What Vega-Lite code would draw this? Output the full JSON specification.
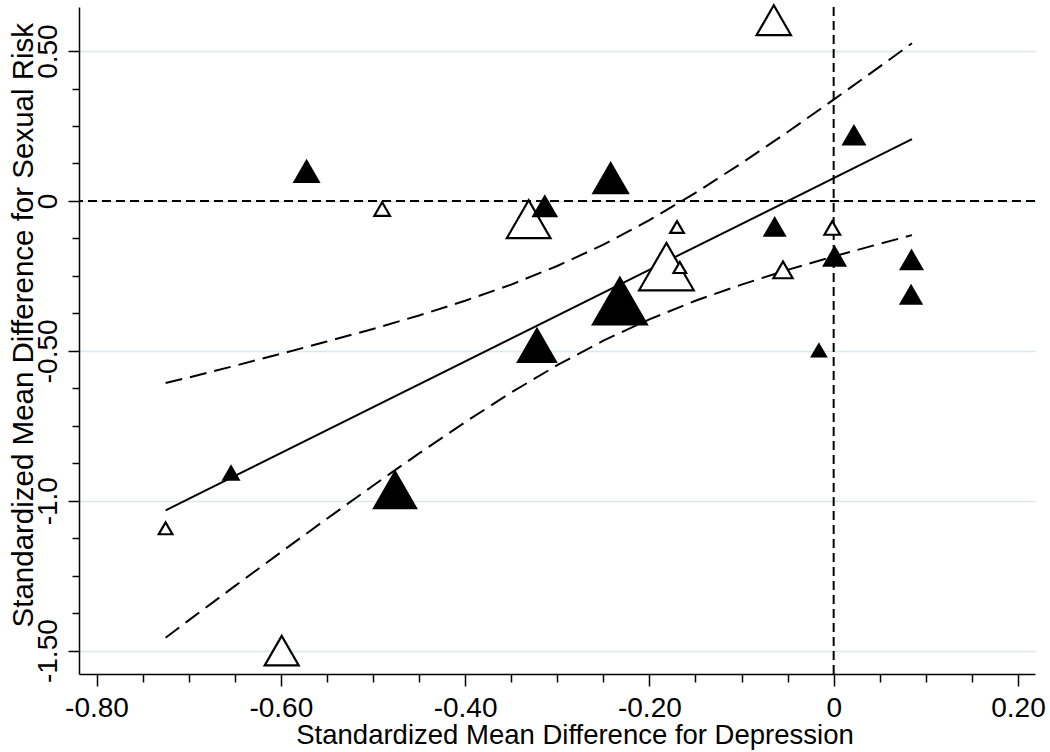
{
  "$schema": "https://vega.github.io/schema/vega-lite/v6.json",
  "width": 956,
  "height": 667,
  "autosize": {"type": "none"},
  "padding": {"left": 79, "top": 7, "right": 15, "bottom": 78},
  "background": "white",
  "config": {"view": {"stroke": null}, "font": "Liberation Sans"},
  "datasets": {
    "hollow": [
      {"depression": -0.1815, "sexual_risk": -0.219, "weight": 29.9},
      {"depression": -0.331, "sexual_risk": -0.061, "weight": 19.1},
      {"depression": -0.065, "sexual_risk": 0.603, "weight": 11.8},
      {"depression": -0.599, "sexual_risk": -1.5, "weight": 11.6},
      {"depression": -0.055, "sexual_risk": -0.23, "weight": 3.72},
      {"depression": -0.0015, "sexual_risk": -0.09, "weight": 2.46},
      {"depression": -0.49, "sexual_risk": -0.027, "weight": 2.43},
      {"depression": -0.17, "sexual_risk": -0.087, "weight": 1.88},
      {"depression": -0.725, "sexual_risk": -1.092, "weight": 1.88},
      {"depression": -0.167, "sexual_risk": -0.222, "weight": 1.61}
    ],
    "filled": [
      {"depression": -0.232, "sexual_risk": -0.332, "weight": 33.3},
      {"depression": -0.476, "sexual_risk": -0.962, "weight": 20.9},
      {"depression": -0.322, "sexual_risk": -0.48, "weight": 17.4},
      {"depression": -0.242, "sexual_risk": 0.078, "weight": 14.7},
      {"depression": -0.572, "sexual_risk": 0.1, "weight": 7.84},
      {"depression": -0.3135, "sexual_risk": -0.016, "weight": 7.13},
      {"depression": 0.001, "sexual_risk": -0.183, "weight": 6.25},
      {"depression": 0.022, "sexual_risk": 0.221, "weight": 6.25},
      {"depression": 0.0845, "sexual_risk": -0.195, "weight": 6.25},
      {"depression": 0.084, "sexual_risk": -0.311, "weight": 5.9},
      {"depression": -0.064, "sexual_risk": -0.085, "weight": 5.76},
      {"depression": -0.654, "sexual_risk": -0.906, "weight": 3.61},
      {"depression": -0.016, "sexual_risk": -0.497, "weight": 3.13}
    ],
    "fit": [
      {"depression": -0.725, "sexual_risk": -1.032},
      {"depression": 0.085, "sexual_risk": 0.206}
    ],
    "ci": [
      {"depression": -0.725, "sexual_risk": -0.607, "bound": "upper"},
      {"depression": -0.7, "sexual_risk": -0.589, "bound": "upper"},
      {"depression": -0.65, "sexual_risk": -0.55, "bound": "upper"},
      {"depression": -0.6, "sexual_risk": -0.51, "bound": "upper"},
      {"depression": -0.55, "sexual_risk": -0.469, "bound": "upper"},
      {"depression": -0.5, "sexual_risk": -0.427, "bound": "upper"},
      {"depression": -0.45, "sexual_risk": -0.382, "bound": "upper"},
      {"depression": -0.4, "sexual_risk": -0.333, "bound": "upper"},
      {"depression": -0.35, "sexual_risk": -0.279, "bound": "upper"},
      {"depression": -0.3, "sexual_risk": -0.217, "bound": "upper"},
      {"depression": -0.25, "sexual_risk": -0.146, "bound": "upper"},
      {"depression": -0.2, "sexual_risk": -0.064, "bound": "upper"},
      {"depression": -0.15, "sexual_risk": 0.027, "bound": "upper"},
      {"depression": -0.1, "sexual_risk": 0.126, "bound": "upper"},
      {"depression": -0.05, "sexual_risk": 0.23, "bound": "upper"},
      {"depression": 0.0, "sexual_risk": 0.338, "bound": "upper"},
      {"depression": 0.05, "sexual_risk": 0.448, "bound": "upper"},
      {"depression": 0.085, "sexual_risk": 0.526, "bound": "upper"},
      {"depression": -0.725, "sexual_risk": -1.457, "bound": "lower"},
      {"depression": -0.7, "sexual_risk": -1.399, "bound": "lower"},
      {"depression": -0.65, "sexual_risk": -1.285, "bound": "lower"},
      {"depression": -0.6, "sexual_risk": -1.172, "bound": "lower"},
      {"depression": -0.55, "sexual_risk": -1.06, "bound": "lower"},
      {"depression": -0.5, "sexual_risk": -0.95, "bound": "lower"},
      {"depression": -0.45, "sexual_risk": -0.842, "bound": "lower"},
      {"depression": -0.4, "sexual_risk": -0.738, "bound": "lower"},
      {"depression": -0.35, "sexual_risk": -0.639, "bound": "lower"},
      {"depression": -0.3, "sexual_risk": -0.548, "bound": "lower"},
      {"depression": -0.25, "sexual_risk": -0.466, "bound": "lower"},
      {"depression": -0.2, "sexual_risk": -0.395, "bound": "lower"},
      {"depression": -0.15, "sexual_risk": -0.333, "bound": "lower"},
      {"depression": -0.1, "sexual_risk": -0.279, "bound": "lower"},
      {"depression": -0.05, "sexual_risk": -0.23, "bound": "lower"},
      {"depression": 0.0, "sexual_risk": -0.185, "bound": "lower"},
      {"depression": 0.05, "sexual_risk": -0.143, "bound": "lower"},
      {"depression": 0.085, "sexual_risk": -0.114, "bound": "lower"}
    ],
    "zero": [{"depression": 0, "sexual_risk": 0}]
  },
  "layer": [
    {
      "data": {"name": "zero"},
      "mark": {"type": "rule", "color": "black", "strokeWidth": 2, "strokeDash": [9, 5]},
      "encoding": {
        "y": {
          "field": "sexual_risk",
          "type": "quantitative",
          "scale": {"domain": [-1.578, 0.647], "nice": false, "zero": false},
          "axis": {
            "title": "Standardized Mean Difference for Sexual Risk",
            "titleFontSize": 29.5,
            "titleFontWeight": "normal",
            "titleColor": "black",
            "titleAngle": -90,
            "titleX": -47,
            "titleY": 317.7,
            "titleAlign": "center",
            "titleBaseline": "alphabetic",
            "values": [0.5, 0.375, 0.25, 0.125, 0, -0.125, -0.25, -0.375, -0.5, -0.625, -0.75, -0.875, -1, -1.125, -1.25, -1.375, -1.5],
            "labelExpr": "abs(datum.value-0.5)<1e-6?'0.50':abs(datum.value)<1e-6?'0':abs(datum.value+0.5)<1e-6?'-0.50':abs(datum.value+1)<1e-6?'-1.0':abs(datum.value+1.5)<1e-6?'-1.50':''",
            "labelAngle": -90,
            "labelAlign": "center",
            "labelBaseline": "alphabetic",
            "labelFontSize": 28,
            "labelColor": "black",
            "labelPadding": 12,
            "labelOverlap": false,
            "labelBound": false,
            "labelFlush": false,
            "tickSize": {"condition": {"test": "abs(datum.value*2-round(datum.value*2))<1e-6", "value": 11}, "value": 7},
            "tickColor": "black",
            "tickWidth": 1.5,
            "domainColor": "black",
            "domainWidth": 1.5,
            "grid": true,
            "gridColor": "#dce8eb",
            "gridWidth": 1.5,
            "gridOpacity": {"condition": {"test": "abs(datum.value*2-round(datum.value*2))<1e-6", "value": 1}, "value": 0}
          }
        }
      }
    },
    {
      "data": {"name": "zero"},
      "mark": {"type": "rule", "color": "black", "strokeWidth": 2, "strokeDash": [9, 5]},
      "encoding": {
        "x": {
          "field": "depression",
          "type": "quantitative",
          "scale": {"domain": [-0.819, 0.2185], "nice": false, "zero": false},
          "axis": {
            "title": "Standardized Mean Difference for Depression",
            "titleFontSize": 27.5,
            "titleFontWeight": "normal",
            "titleColor": "black",
            "titleX": 495.5,
            "titleY": 69,
            "titleAlign": "center",
            "titleBaseline": "alphabetic",
            "values": [-0.8, -0.75, -0.7, -0.65, -0.6, -0.55, -0.5, -0.45, -0.4, -0.35, -0.3, -0.25, -0.2, -0.15, -0.1, -0.05, 0, 0.05, 0.1, 0.15, 0.2],
            "labelExpr": "abs(datum.value+0.8)<1e-6?'-0.80':abs(datum.value+0.6)<1e-6?'-0.60':abs(datum.value+0.4)<1e-6?'-0.40':abs(datum.value+0.2)<1e-6?'-0.20':abs(datum.value)<1e-6?'0':abs(datum.value-0.2)<1e-6?'0.20':''",
            "labelAngle": 0,
            "labelAlign": "center",
            "labelBaseline": "alphabetic",
            "labelFontSize": 28,
            "labelColor": "black",
            "labelPadding": 30,
            "labelOverlap": false,
            "labelBound": false,
            "labelFlush": false,
            "tickSize": {"condition": {"test": "abs(datum.value*5-round(datum.value*5))<1e-6", "value": 12}, "value": 8},
            "tickColor": "black",
            "tickWidth": 1.5,
            "domainColor": "black",
            "domainWidth": 1.5,
            "grid": false
          }
        }
      }
    },
    {
      "data": {"name": "ci"},
      "mark": {"type": "line", "color": "black", "strokeWidth": 2, "strokeDash": [17, 8]},
      "encoding": {
        "x": {"field": "depression", "type": "quantitative"},
        "y": {"field": "sexual_risk", "type": "quantitative"},
        "detail": {"field": "bound", "type": "nominal"}
      }
    },
    {
      "data": {"name": "fit"},
      "mark": {"type": "line", "color": "black", "strokeWidth": 2},
      "encoding": {
        "x": {"field": "depression", "type": "quantitative"},
        "y": {"field": "sexual_risk", "type": "quantitative"}
      }
    },
    {
      "data": {"name": "hollow"},
      "mark": {"type": "point", "shape": "triangle-up", "filled": false, "fill": "white", "fillOpacity": 1, "stroke": "black", "strokeWidth": 2.2, "opacity": 1},
      "encoding": {
        "x": {"field": "depression", "type": "quantitative"},
        "y": {"field": "sexual_risk", "type": "quantitative"},
        "size": {"field": "weight", "type": "quantitative", "scale": {"domain": [0, 40], "range": [0, 4000], "zero": true}, "legend": null}
      }
    },
    {
      "data": {"name": "filled"},
      "mark": {"type": "point", "shape": "triangle-up", "filled": true, "fill": "black", "fillOpacity": 1, "strokeWidth": 0, "opacity": 1},
      "encoding": {
        "x": {"field": "depression", "type": "quantitative"},
        "y": {"field": "sexual_risk", "type": "quantitative"},
        "size": {"field": "weight", "type": "quantitative", "scale": {"domain": [0, 40], "range": [0, 4000], "zero": true}, "legend": null}
      }
    }
  ]
}
